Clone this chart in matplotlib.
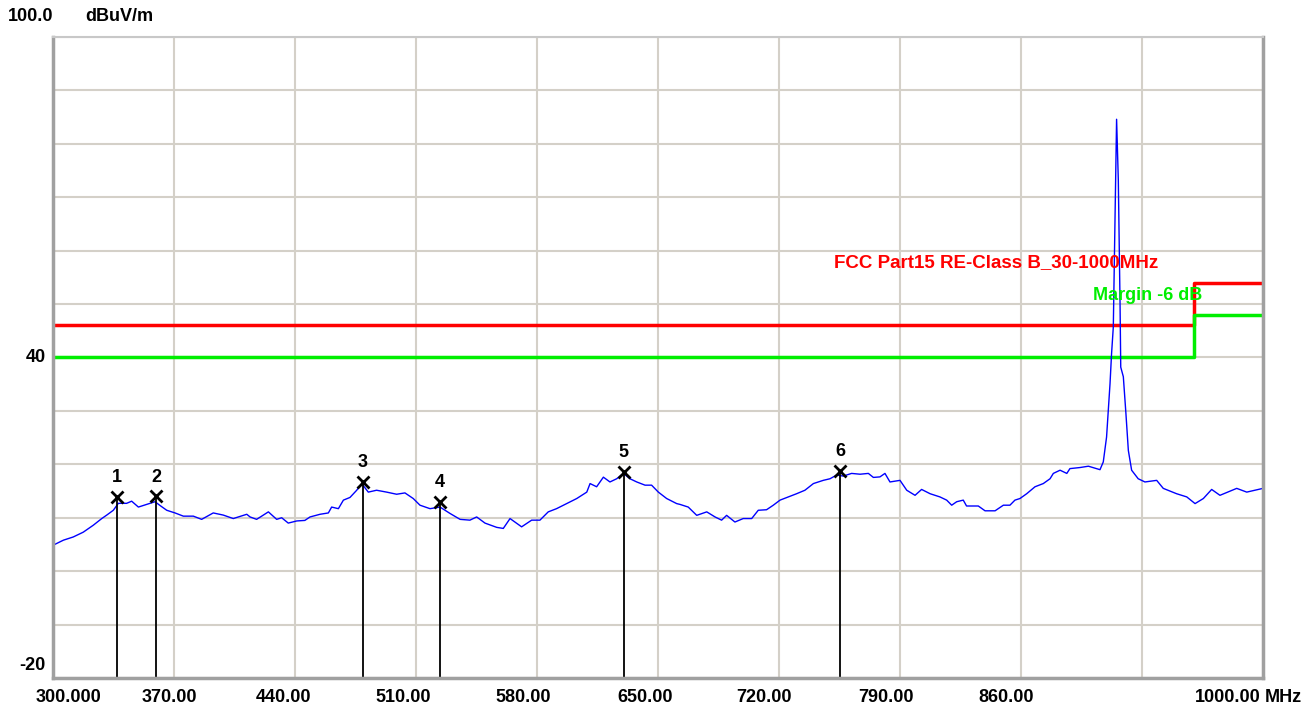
import numpy as np
import matplotlib.pyplot as plt
from matplotlib.transforms import offset_copy

# trace (MHz, dBuV/m)
freq = [300.0, 306.0, 311.7, 317.5, 323.3, 328.2, 331.1, 334.9, 337.8, 342.6,
        345.5, 349.4, 354.2, 359.0, 361.9, 365.8, 370.6, 375.4, 381.2, 386.0,
        392.7, 398.5, 404.3, 412.1, 414.0, 417.8, 424.6, 429.4, 432.3, 436.1,
        441.0, 445.7, 448.7, 454.5, 459.3, 461.2, 465.1, 468.0, 471.8, 475.7,
        478.6, 482.4, 487.2, 493.0, 498.8, 503.6, 508.4, 512.3, 518.1, 523.9,
        529.7, 535.5, 541.2, 545.1, 549.9, 556.7, 560.5, 564.4, 571.1, 576.9,
        581.7, 586.5, 591.3, 597.2, 603.0, 608.8, 610.7, 614.5, 618.4, 622.2,
        626.1, 630.0, 633.8, 637.7, 642.5, 646.3, 650.2, 655.0, 660.8, 662.7,
        667.5, 672.4, 678.2, 683.0, 686.8, 689.7, 694.5, 699.3, 704.2, 708.0,
        712.8, 716.7, 720.6, 725.4, 730.2, 735.0, 739.9, 745.6, 749.5, 753.4,
        757.2, 762.0, 766.9, 771.7, 774.6, 778.4, 781.3, 784.2, 790.0, 793.9,
        798.7, 802.5, 807.4, 813.1, 817.0, 819.9, 822.8, 826.6, 828.5, 835.3,
        839.2, 845.0, 849.8, 853.6, 856.5, 859.4, 863.3, 868.1, 872.9, 876.8,
        878.7, 882.6, 886.5, 888.3, 894.1, 899.0, 905.7, 907.6, 909.5, 911.5,
        912.4, 913.4, 914.4, 915.3, 916.3, 917.3, 917.7, 919.2, 920.7, 922.1,
        924.0, 927.8, 931.7, 938.5, 942.3, 950.0, 955.9, 960.7, 965.5, 970.3,
        975.1, 984.8, 990.6, 1000.0]
level = [4.85, 5.8, 6.4, 7.3, 8.6, 9.85, 10.5, 11.4, 12.7, 12.7,
         13.1, 12.0, 12.5, 13.0, 12.3, 11.4, 10.9, 10.3, 10.3, 9.7,
         10.9, 10.5, 9.85, 10.65, 10.15, 9.7, 11.1, 9.7, 10.0, 9.0,
         9.4, 9.5, 10.15, 10.65, 10.9, 12.0, 11.7, 13.3, 13.8, 15.15,
         16.4, 14.8, 15.15, 14.8, 14.4, 14.65, 13.6, 12.35, 11.7, 12.0,
         10.8, 9.7, 9.55, 10.15, 9.0, 8.2, 8.0, 9.85, 8.3, 9.55,
         9.55, 11.1, 11.7, 12.65, 13.6, 14.8, 16.4, 15.8, 17.6, 16.7,
         17.3, 18.3, 17.3, 16.7, 16.1, 16.1, 14.8, 13.6, 12.65, 12.5,
         12.0, 10.45, 11.1, 10.15, 9.55, 10.45, 9.2, 9.85, 9.85, 11.4,
         11.5, 12.35, 13.3, 13.9, 14.5, 15.15, 16.4, 17.0, 17.3, 18.0,
         17.8, 18.3, 18.15, 18.3, 17.55, 17.65, 18.3, 16.7, 17.0, 15.15,
         14.2, 15.3, 14.5, 13.9, 13.3, 12.35, 13.0, 13.3, 12.2, 12.2,
         11.3, 11.3, 12.35, 12.35, 13.3, 13.6, 14.5, 15.8, 16.4, 17.3,
         18.3, 18.9, 18.3, 19.2, 19.4, 19.65, 19.0, 20.45, 25.1, 35.1,
         40.75, 45.7, 66.3, 84.6, 73.2, 50.1, 38.2, 36.4, 29.5, 22.6,
         18.9, 17.3, 16.7, 17.0, 15.5, 14.5, 13.9, 12.65, 13.6, 15.3,
         14.2, 15.5, 14.8, 15.5]

# FCC Part 15 class B limit and -6 dB margin
limit_freq = [300, 960, 1000]
limit_level = [46, 54, 54]
margin_level = [40, 48, 48]

# markers
mk_freq = [337.2, 359.6, 479.2, 523.9, 630.2, 755.5]
mk_level = [13.9, 14.0, 16.7, 13.0, 18.6, 18.8]

xticks = [300, 370, 440, 510, 580, 650, 720, 790, 860, 1000]
xlabels = ['300.000', '370.00', '440.00', '510.00', '580.00', '650.00',
           '720.00', '790.00', '860.00', '1000.00']
xlabel_shift = [15, -5, -12, -13, -14, -13, -15, -14, -15, -35]

plt.rcParams['font.family'] = ['Liberation Sans', 'DejaVu Sans']
FS = 13

fig = plt.figure(figsize=(13.06, 7.09), dpi=100)
ax = fig.add_axes([53/1306, 31/709, 1210/1306, 641/709])
ax.set_xlim(300, 1000)
ax.set_ylim(-20, 100)
ax.set_xticks(np.arange(300, 1001, 70))
ax.set_yticks(np.arange(-20, 101, 10))
ax.grid(True, color='#d4d0c8', lw=1.5)
ax.tick_params(length=0, labelbottom=False, labelleft=False)
for side in ['left', 'bottom', 'right']:
    ax.spines[side].set_color('#a0a0a0')
    ax.spines[side].set_linewidth(2.5)
ax.spines['top'].set_color('#c8c8c8')
ax.spines['top'].set_linewidth(1.5)

ax.plot(limit_freq, limit_level, drawstyle='steps-post', color='#ff0000', lw=2.5)
ax.plot(limit_freq, margin_level, drawstyle='steps-post', color='#00ee00', lw=2.5)
ax.plot(freq, level, color='#0000ff', lw=1)

for i, (f, l) in enumerate(zip(mk_freq, mk_level)):
    ax.plot([f, f], [l, -20], color='black', lw=1.3)
    ax.plot(f, l, marker='x', color='black', ms=9, mew=2)
    ax.text(f, l + 2.0, str(i + 1), ha='center', va='bottom',
            fontsize=FS, fontweight='bold')

ax.text(752, 57.7, 'FCC Part15 RE-Class B_30-1000MHz', color='#ff0000',
        fontsize=FS + 0.5, fontweight='bold', ha='left', va='center')
ax.text(901.5, 51.7, 'Margin -6 dB', color='#00ee00', fontsize=FS,
        fontweight='bold', ha='left', va='center')

# x labels under the axis
for x, lab, dx in zip(xticks, xlabels, xlabel_shift):
    tr = offset_copy(ax.transData, fig=fig, x=dx, y=-19, units='dots')
    ax.text(x, -20, lab, transform=tr, ha='center', va='center',
            fontsize=FS, fontweight='bold', clip_on=False)
tr = offset_copy(ax.transData, fig=fig, x=20, y=-19, units='dots')
ax.text(1000, -20, 'MHz', transform=tr, ha='center', va='center',
        fontsize=FS, fontweight='bold', clip_on=False)

# y labels
tr = offset_copy(ax.transData, fig=fig, x=-7, y=0, units='dots')
ax.text(300, 40, '40', transform=tr, ha='right', va='center',
        fontsize=FS, fontweight='bold', clip_on=False)
tr = offset_copy(ax.transData, fig=fig, x=-7, y=13, units='dots')
ax.text(300, -20, '-20', transform=tr, ha='right', va='center',
        fontsize=FS, fontweight='bold', clip_on=False)
tr = offset_copy(ax.transData, fig=fig, x=-45, y=20, units='dots')
ax.text(300, 100, '100.0', transform=tr, ha='left', va='center',
        fontsize=FS, fontweight='bold', clip_on=False)
tr = offset_copy(ax.transData, fig=fig, x=32, y=20, units='dots')
ax.text(300, 100, 'dBuV/m', transform=tr, ha='left', va='center',
        fontsize=FS, fontweight='bold', clip_on=False)

fig.savefig('out.png', dpi=100)
